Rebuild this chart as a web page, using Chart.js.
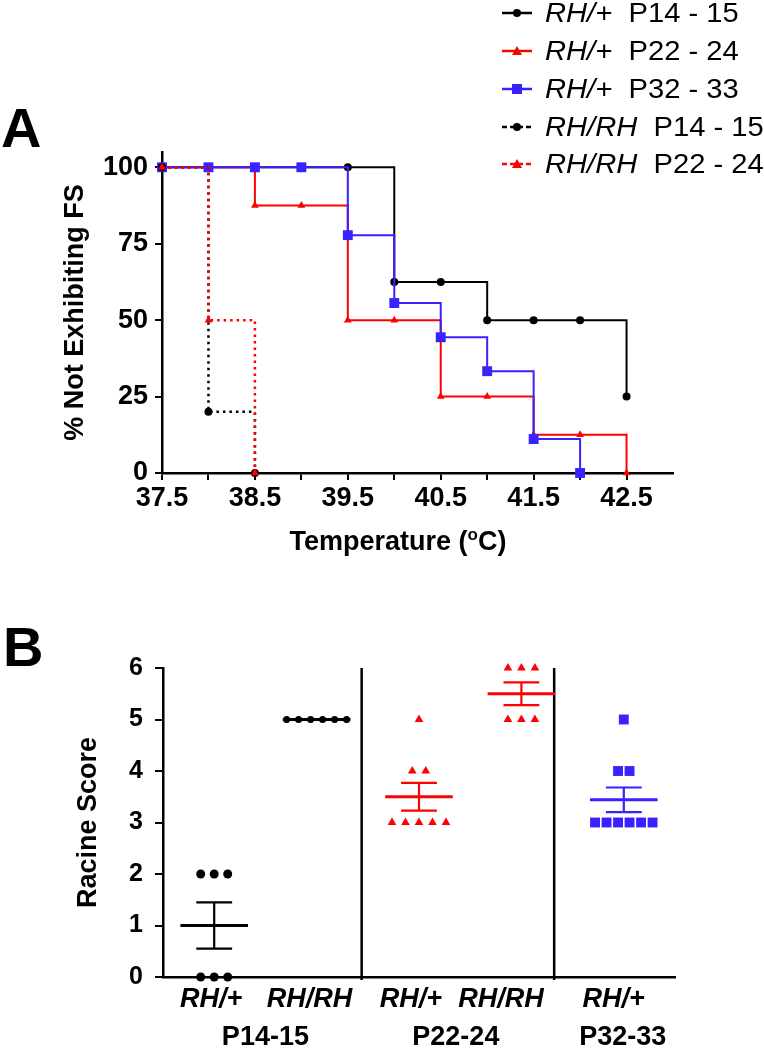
<!DOCTYPE html>
<html>
<head>
<meta charset="utf-8">
<script src="https://cdn.jsdelivr.net/npm/chart.js@4.4.1/dist/chart.umd.min.js"></script>
<style>
html, body { margin: 0; padding: 0; background: #fff; }
body { width: 764px; height: 1050px; position: relative; overflow: hidden; font-family: "Liberation Sans", Arial, sans-serif; color: #000; }
canvas { position: absolute; left: 0; }
#chartA { top: 0; }
#chartB { top: 580px; }
.panel { position: absolute; font-weight: bold; font-size: 56px; line-height: 56px; }
.row { position: absolute; left: 500px; height: 30px; width: 264px; }
.row svg { position: absolute; left: 0; top: 0; }
.row .t { position: absolute; left: 45px; top: 0; font-size: 27px; line-height: 30px; white-space: pre; transform: scaleX(1.08); transform-origin: 0 50%; }
</style>
</head>
<body>
<canvas id="chartA" width="764" height="580"></canvas>
<canvas id="chartB" width="764" height="470"></canvas>
<div class="panel" style="left:1px; top:100px;">A</div>
<div class="panel" style="left:3px; top:619px;">B</div>
<div id="legend"></div>

<script>
// ---- Panel A: survival-style step curves ----
const tempTicks = [37.5, 38, 38.5, 39, 39.5, 40, 40.5, 41, 41.5, 42, 42.5];
const pctTicks = [0, 25, 50, 75, 100];

const hetP14Temp = [37.5, 38, 38.5, 39, 39.5, 40, 40.5, 41, 41.5, 42, 42.5];
const hetP14Pct  = [100, 100, 100, 100, 100, 62.5, 62.5, 50, 50, 50, 25];
const hetP22Temp = [37.5, 38, 38.5, 39, 39.5, 40, 40.5, 41, 41.5, 42, 42.5];
const hetP22Pct  = [100, 100, 87.5, 87.5, 50, 50, 25, 25, 12.5, 12.5, 0];
const hetP32Temp = [37.5, 38, 38.5, 39, 39.5, 40, 40.5, 41, 41.5, 42];
const hetP32Pct  = [100, 100, 100, 100, 77.8, 55.6, 44.4, 33.3, 11.1, 0];
const homP14Temp = [37.5, 38, 38.5];
const homP14Pct  = [100, 20, 0];
const homP22Temp = [37.5, 38, 38.5];
const homP22Pct  = [100, 50, 0];

// ---- Panel B: Racine scores ----
const genotypes = ['RH/+', 'RH/RH', 'RH/+', 'RH/RH', 'RH/+'];
const ages = ['P14-15', 'P22-24', 'P32-33'];
const scoresP14Het = [2, 2, 2, 0, 0, 0];
const scoresP14Hom = [5, 5, 5, 5, 5, 5];
const scoresP22Het = [5, 4, 4, 3, 3, 3, 3, 3];
const scoresP22Hom = [6, 6, 6, 5, 5, 5];
const scoresP32Het = [5, 4, 4, 3, 3, 3, 3, 3, 3];
const scoreMeans = [1, 5, 3.5, 5.5, 3.44];
const scoreSems  = [0.45, 0, 0.27, 0.22, 0.24];

const BLACK = '#000000';
const RED = '#ff0000';
const BLUE = '#3a22ff';
const FONT = '"Liberation Sans", Arial, sans-serif';

Chart.defaults.font.family = FONT;
Chart.defaults.color = '#000';

// legend (html, mixed italic text)
const legendItems = [
    { geno: 'RH/+', age: 'P14 - 15', color: BLACK, marker: 'circle', dotted: false },
    { geno: 'RH/+', age: 'P22 - 24', color: RED, marker: 'triangle', dotted: false },
    { geno: 'RH/+', age: 'P32 - 33', color: BLUE, marker: 'square', dotted: false },
    { geno: 'RH/RH', age: 'P14 - 15', color: BLACK, marker: 'circle', dotted: true },
    { geno: 'RH/RH', age: 'P22 - 24', color: RED, marker: 'triangle', dotted: true }
];
const rowCenters = [13, 51, 89, 127, 164];

function markerSvg(kind, color) {
    if (kind === 'circle') return `<circle cx="17" cy="15" r="4" fill="${color}"/>`;
    if (kind === 'square') return `<rect x="12" y="10" width="10" height="10" fill="${color}"/>`;
    return `<polygon points="17,10 22,19 12,19" fill="${color}"/>`;
}

document.getElementById('legend').innerHTML = legendItems.map((it, i) => {
    const dash = it.dotted ? 'stroke-dasharray="5 3"' : '';
    return `<div class="row" style="top:${rowCenters[i] - 15}px">
        <svg width="36" height="30"><line x1="2" y1="15" x2="32" y2="15" stroke="${it.color}" stroke-width="2.5" ${dash}/>${markerSvg(it.marker, it.color)}</svg>
        <span class="t"><i>${it.geno}</i>  ${it.age}</span></div>`;
}).join('');

// step dataset helper
function stepSet(xs, ys, color, style, radius, dotted, order) {
    return {
        data: xs.map((x, i) => ({ x: x, y: ys[i] })),
        stepped: 'before',
        borderColor: color,
        backgroundColor: color,
        borderWidth: dotted ? 2.5 : 2,
        borderDash: dotted ? [2.5, 4] : [],
        pointStyle: style,
        pointRadius: radius,
        pointBorderWidth: 0,
        pointBackgroundColor: color,
        fill: false,
        clip: false,
        order: order
    };
}

// x-axis title drawn centred where the original puts it, with a raised "o"
const tempTitle = {
    id: 'tempTitle',
    afterDraw(chart) {
        const { ctx, scales: { x } } = chart;
        const cx = x.getPixelForValue(40.04);
        const y = 543;
        const big = `bold 27px ${FONT}`;
        const small = `bold 17px ${FONT}`;
        const parts = [['Temperature (', big, 0], ['o', small, -8], ['C)', big, 0]];
        ctx.save();
        ctx.fillStyle = '#000';
        ctx.textBaseline = 'middle';
        ctx.textAlign = 'left';
        let total = 0;
        parts.forEach(p => { ctx.font = p[1]; total += ctx.measureText(p[0]).width; });
        let px = cx - total / 2;
        parts.forEach(p => {
            ctx.font = p[1];
            ctx.fillText(p[0], px, y + p[2]);
            px += ctx.measureText(p[0]).width;
        });
        ctx.restore();
    }
};

new Chart(document.getElementById('chartA'), {
    type: 'line',
    data: {
        datasets: [
            stepSet(hetP14Temp, hetP14Pct, BLACK, 'circle', 4, false, 5),
            stepSet(hetP22Temp, hetP22Pct, RED, 'triangle', 4.5, false, 4),
            stepSet(hetP32Temp, hetP32Pct, BLUE, 'rect', 7, false, 3),
            stepSet(homP14Temp, homP14Pct, BLACK, 'circle', 4, true, 2),
            stepSet(homP22Temp, homP22Pct, RED, 'triangle', 4.5, true, 1)
        ]
    },
    options: {
        responsive: false,
        animation: false,
        layout: { padding: { top: 152, right: 91, left: 0, bottom: 0 } },
        plugins: { legend: { display: false }, tooltip: { enabled: false } },
        scales: {
            x: {
                type: 'linear',
                min: 37.5,
                max: 43,
                afterBuildTicks: s => { s.ticks = tempTicks.map(v => ({ value: v })); },
                afterFit: s => { s.height = 107; },
                grid: { drawOnChartArea: false, color: '#000', lineWidth: 2, tickLength: 7 },
                border: { color: '#000', width: 2.5 },
                ticks: {
                    autoSkip: false,
                    maxRotation: 0,
                    padding: 2,
                    font: { size: 27, weight: 'bold' },
                    callback: v => (v % 1 === 0.5 ? v.toFixed(1) : '')
                }
            },
            y: {
                min: 0,
                max: 105,
                afterBuildTicks: s => { s.ticks = pctTicks.map(v => ({ value: v })); },
                afterFit: s => { s.width = 162; },
                grid: { drawOnChartArea: false, color: '#000', lineWidth: 2, tickLength: 7 },
                border: { color: '#000', width: 2.5 },
                ticks: { padding: 7, font: { size: 27, weight: 'bold' } },
                title: {
                    display: true,
                    text: '% Not Exhibiting FS',
                    font: { size: 27, weight: 'bold', lineHeight: 1 },
                    padding: { top: 62, bottom: 0 }
                }
            }
        }
    },
    plugins: [tempTitle]
});

// ---- Panel B ----
const PX_PER_UNIT = 102.4;
function swarm(scores, center, gapPx) {
    const counts = {};
    scores.forEach(s => { counts[s] = (counts[s] || 0) + 1; });
    const seen = {};
    return scores.map(s => {
        seen[s] = seen[s] === undefined ? 0 : seen[s] + 1;
        return { x: center + (seen[s] - (counts[s] - 1) / 2) * gapPx / PX_PER_UNIT, y: s };
    });
}

function dotSet(points, color, style, radius) {
    return {
        data: points,
        backgroundColor: color,
        borderColor: color,
        pointStyle: style,
        pointRadius: radius,
        pointBorderWidth: 0,
        clip: false
    };
}

function separator(xv) {
    return {
        data: [{ x: xv, y: -0.06 }, { x: xv, y: 6 }],
        showLine: true,
        borderColor: '#000',
        borderWidth: 2.5,
        pointRadius: 0,
        clip: false
    };
}

const groupColors = [BLACK, BLACK, RED, RED, BLUE];
const genoLabelAt = [0.97, 1.93, 2.92, 3.8, 4.9];
const ageLabelAt = [1.5, 3.36, 4.99];

const meanSem = {
    id: 'meanSem',
    afterDatasetsDraw(chart) {
        const { ctx, scales: { x, y } } = chart;
        ctx.save();
        scoreMeans.forEach((m, i) => {
            const cx = x.getPixelForValue(i + 1);
            const half = 0.33 * PX_PER_UNIT;
            const cap = 0.175 * PX_PER_UNIT;
            const ym = y.getPixelForValue(m);
            ctx.strokeStyle = groupColors[i];
            ctx.lineWidth = 3;
            ctx.beginPath();
            ctx.moveTo(cx - half, ym);
            ctx.lineTo(cx + half, ym);
            ctx.stroke();
            if (scoreSems[i] > 0) {
                const yt = y.getPixelForValue(m + scoreSems[i]);
                const yb = y.getPixelForValue(m - scoreSems[i]);
                ctx.lineWidth = 2.2;
                ctx.beginPath();
                ctx.moveTo(cx, yt); ctx.lineTo(cx, yb);
                ctx.moveTo(cx - cap, yt); ctx.lineTo(cx + cap, yt);
                ctx.moveTo(cx - cap, yb); ctx.lineTo(cx + cap, yb);
                ctx.stroke();
            }
        });
        ctx.restore();
    },
    afterDraw(chart) {
        const { ctx, scales: { x } } = chart;
        ctx.save();
        ctx.fillStyle = '#000';
        ctx.font = `bold 27px ${FONT}`;
        ctx.textAlign = 'center';
        ctx.textBaseline = 'middle';
        ages.forEach((a, i) => ctx.fillText(a, x.getPixelForValue(ageLabelAt[i]), 458));
        ctx.restore();
    }
};

new Chart(document.getElementById('chartB'), {
    type: 'scatter',
    data: {
        datasets: [
            dotSet(swarm(scoresP14Het, 1, 13.5), BLACK, 'circle', 4.5),
            dotSet(swarm(scoresP14Hom, 2, 12), BLACK, 'circle', 3.5),
            dotSet(swarm(scoresP22Het, 3, 13.5), RED, 'triangle', 5),
            dotSet(swarm(scoresP22Hom, 4, 13.5), RED, 'triangle', 5),
            dotSet(swarm(scoresP32Het, 5, 11.5), BLUE, 'rect', 7),
            separator(2.44),
            separator(4.32)
        ]
    },
    options: {
        responsive: false,
        animation: false,
        layout: { padding: { top: 88, right: 89, left: 0, bottom: 0 } },
        plugins: { legend: { display: false }, tooltip: { enabled: false } },
        scales: {
            x: {
                type: 'linear',
                min: 0.5,
                max: 5.5,
                afterBuildTicks: s => { s.ticks = genoLabelAt.map(v => ({ value: v })); },
                afterFit: s => { s.height = 73; },
                grid: { display: false, drawTicks: false },
                border: { color: '#000', width: 2.5 },
                ticks: {
                    autoSkip: false,
                    maxRotation: 0,
                    padding: 6,
                    font: { size: 27, weight: 'bold', style: 'italic' },
                    callback: (v, i) => genotypes[i]
                }
            },
            y: {
                min: 0,
                max: 6,
                ticks: { stepSize: 1, padding: 12, font: { size: 25, weight: 'bold' } },
                afterFit: s => { s.width = 163; },
                grid: { drawOnChartArea: false, color: '#000', lineWidth: 2, tickLength: 8 },
                border: { color: '#000', width: 2.5 },
                title: {
                    display: true,
                    text: 'Racine Score',
                    font: { size: 27, weight: 'bold', lineHeight: 1 },
                    padding: { top: 75, bottom: 0 }
                }
            }
        }
    },
    plugins: [meanSem]
});
</script>
</body>
</html>
